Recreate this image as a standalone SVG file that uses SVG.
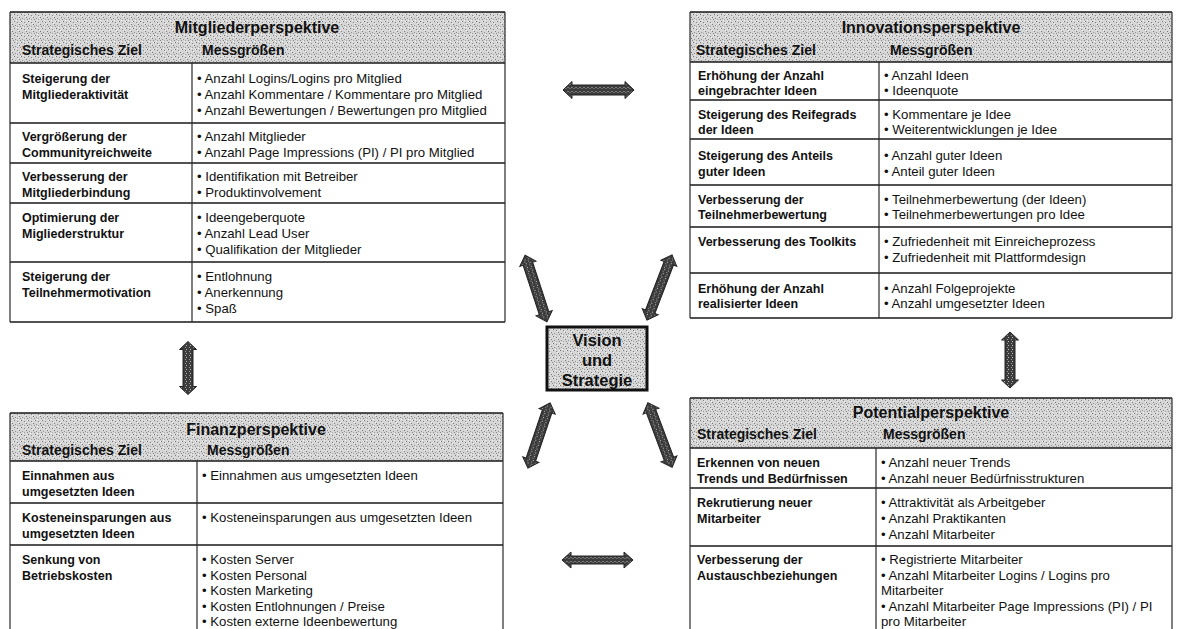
<svg xmlns="http://www.w3.org/2000/svg" width="1180" height="629" viewBox="0 0 1180 629">
<defs>
<pattern id="lt" width="7" height="7" patternUnits="userSpaceOnUse">
<rect width="7" height="7" fill="#d6d6d6"/>
<rect x="0" y="0" width="1" height="1" fill="#707070"/>
<rect x="3" y="1" width="1" height="1" fill="#858585"/>
<rect x="5" y="3" width="1" height="1" fill="#7a7a7a"/>
<rect x="1" y="4" width="1" height="1" fill="#909090"/>
<rect x="6" y="5" width="1" height="1" fill="#8a8a8a"/>
<rect x="2" y="6" width="1" height="1" fill="#f2f2f2"/>
<rect x="4" y="2" width="1" height="1" fill="#f0f0f0"/>
<rect x="6" y="0" width="1" height="1" fill="#efefef"/>
<rect x="3" y="5" width="1" height="1" fill="#a0a0a0"/>
</pattern>
<pattern id="dk" width="4" height="4" patternUnits="userSpaceOnUse">
<rect width="4" height="4" fill="#3c3c3c"/>
<rect x="1" y="1" width="1" height="1" fill="#bbb"/>
<rect x="3" y="2" width="1" height="1" fill="#999"/>
</pattern>
<style>
.ln{stroke:#1a1a1a;stroke-width:1.6;fill:none}
.vl{stroke:#2a2a2a;stroke-width:1.2;fill:none}
.hd{fill:url(#lt);stroke:none}
text{font-family:"Liberation Sans",Arial,Helvetica,sans-serif;fill:#111}
.t{font-size:13.2px}
.b{font-size:12.5px;font-weight:bold}
.h{font-size:14px;font-weight:bold}
.ti{font-size:16px;font-weight:bold;text-anchor:middle}
.arr{fill:url(#dk);stroke:#222;stroke-width:1}
.vt{font-size:16.5px;font-weight:bold;text-anchor:middle}
</style>
</defs>
<rect width="1180" height="629" fill="#fff"/>

<g id="mitglieder">
<rect class="hd" x="10" y="12" width="495" height="51"/>
<path class="ln" d="M10 12H505M10 63H505M10 123H505M10 163H505M10 203H505M10 262H505M10 322H505"/>
<path class="vl" d="M10 12V322M505 12V322M192 63V322"/>
<text class="ti" x="257" y="33">Mitgliederperspektive</text>
<text class="h" x="22" y="55">Strategisches Ziel</text>
<text class="h" x="202" y="55">Messgrößen</text>
<text class="b" x="22" y="83">Steigerung der</text>
<text class="b" x="22" y="99">Mitgliederaktivität</text>
<text class="t" x="197" y="83">• Anzahl Logins/Logins pro Mitglied</text>
<text class="t" x="197" y="99">• Anzahl Kommentare / Kommentare pro Mitglied</text>
<text class="t" x="197" y="115">• Anzahl Bewertungen / Bewertungen pro Mitglied</text>
<text class="b" x="22" y="141">Vergrößerung der</text>
<text class="b" x="22" y="157">Communityreichweite</text>
<text class="t" x="197" y="141">• Anzahl Mitglieder</text>
<text class="t" x="197" y="157">• Anzahl Page Impressions (PI) / PI pro Mitglied</text>
<text class="b" x="22" y="181">Verbesserung der</text>
<text class="b" x="22" y="197">Mitgliederbindung</text>
<text class="t" x="197" y="181">• Identifikation mit Betreiber</text>
<text class="t" x="197" y="197">• Produktinvolvement</text>
<text class="b" x="22" y="222">Optimierung der</text>
<text class="b" x="22" y="238">Migliederstruktur</text>
<text class="t" x="197" y="222">• Ideengeberquote</text>
<text class="t" x="197" y="238">• Anzahl Lead User</text>
<text class="t" x="197" y="254">• Qualifikation der Mitglieder</text>
<text class="b" x="22" y="281">Steigerung der</text>
<text class="b" x="22" y="297">Teilnehmermotivation</text>
<text class="t" x="197" y="281">• Entlohnung</text>
<text class="t" x="197" y="297">• Anerkennung</text>
<text class="t" x="197" y="313">• Spaß</text>
</g>

<g id="innovation">
<rect class="hd" x="690" y="12" width="482" height="50"/>
<path class="ln" d="M690 12H1172M690 62H1172M690 100H1172M690 139H1172M690 185H1172M690 227H1172M690 273H1172M690 318H1172"/>
<path class="vl" d="M690 12V318M1172 12V318M879 62V318"/>
<text class="ti" x="931" y="33">Innovationsperspektive</text>
<text class="h" x="696" y="55">Strategisches Ziel</text>
<text class="h" x="890" y="55">Messgrößen</text>
<text class="b" x="698" y="80">Erhöhung der Anzahl</text>
<text class="b" x="698" y="95">eingebrachter Ideen</text>
<text class="t" x="884" y="80">• Anzahl Ideen</text>
<text class="t" x="884" y="95">• Ideenquote</text>
<text class="b" x="698" y="119">Steigerung des Reifegrads</text>
<text class="b" x="698" y="134">der Ideen</text>
<text class="t" x="884" y="119">• Kommentare je Idee</text>
<text class="t" x="884" y="134">• Weiterentwicklungen je Idee</text>
<text class="b" x="698" y="160">Steigerung des Anteils</text>
<text class="b" x="698" y="176">guter Ideen</text>
<text class="t" x="884" y="160">• Anzahl guter Ideen</text>
<text class="t" x="884" y="176">• Anteil guter Ideen</text>
<text class="b" x="698" y="204">Verbesserung der</text>
<text class="b" x="698" y="219">Teilnehmerbewertung</text>
<text class="t" x="884" y="204">• Teilnehmerbewertung (der Ideen)</text>
<text class="t" x="884" y="219">• Teilnehmerbewertungen pro Idee</text>
<text class="b" x="698" y="246">Verbesserung des Toolkits</text>
<text class="t" x="884" y="246">• Zufriedenheit mit Einreicheprozess</text>
<text class="t" x="884" y="262">• Zufriedenheit mit Plattformdesign</text>
<text class="b" x="698" y="293">Erhöhung der Anzahl</text>
<text class="b" x="698" y="308">realisierter Ideen</text>
<text class="t" x="884" y="293">• Anzahl Folgeprojekte</text>
<text class="t" x="884" y="308">• Anzahl umgesetzter Ideen</text>
</g>

<g id="finanz">
<rect class="hd" x="10" y="413" width="493" height="48"/>
<path class="ln" d="M10 413H503M10 461H503M10 503H503M10 545H503"/>
<path class="vl" d="M10 413V629M503 413V629M197 461V629"/>
<text class="ti" x="256" y="435">Finanzperspektive</text>
<text class="h" x="22" y="455">Strategisches Ziel</text>
<text class="h" x="207" y="455">Messgrößen</text>
<text class="b" x="22" y="480">Einnahmen aus</text>
<text class="b" x="22" y="496">umgesetzten Ideen</text>
<text class="t" x="202" y="480">• Einnahmen aus umgesetzten Ideen</text>
<text class="b" x="22" y="522">Kosteneinsparungen aus</text>
<text class="b" x="22" y="538">umgesetzten Ideen</text>
<text class="t" x="202" y="522">• Kosteneinsparungen aus umgesetzten Ideen</text>
<text class="b" x="22" y="564">Senkung von</text>
<text class="b" x="22" y="579.5">Betriebskosten</text>
<text class="t" x="202" y="564">• Kosten Server</text>
<text class="t" x="202" y="579.5">• Kosten Personal</text>
<text class="t" x="202" y="595">• Kosten Marketing</text>
<text class="t" x="202" y="610.5">• Kosten Entlohnungen / Preise</text>
<text class="t" x="202" y="626">• Kosten externe Ideenbewertung</text>
</g>

<g id="potential">
<rect class="hd" x="690" y="398" width="482" height="50"/>
<path class="ln" d="M690 398H1172M690 448H1172M690 488H1172M690 546H1172"/>
<path class="vl" d="M690 398V629M1172 398V629M876 448V629"/>
<text class="ti" x="931" y="418">Potentialperspektive</text>
<text class="h" x="697" y="439">Strategisches Ziel</text>
<text class="h" x="883" y="439">Messgrößen</text>
<text class="b" x="697" y="467">Erkennen von neuen</text>
<text class="b" x="697" y="483">Trends und Bedürfnissen</text>
<text class="t" x="881" y="467">• Anzahl neuer Trends</text>
<text class="t" x="881" y="483">• Anzahl neuer Bedürfnisstrukturen</text>
<text class="b" x="697" y="507">Rekrutierung neuer</text>
<text class="b" x="697" y="523">Mitarbeiter</text>
<text class="t" x="881" y="507">• Attraktivität als Arbeitgeber</text>
<text class="t" x="881" y="523">• Anzahl Praktikanten</text>
<text class="t" x="881" y="539">• Anzahl Mitarbeiter</text>
<text class="b" x="697" y="564">Verbesserung der</text>
<text class="b" x="697" y="579.5">Austauschbeziehungen</text>
<text class="t" x="881" y="564">• Registrierte Mitarbeiter</text>
<text class="t" x="881" y="579.5">• Anzahl Mitarbeiter Logins / Logins pro</text>
<text class="t" x="881" y="595">Mitarbeiter</text>
<text class="t" x="881" y="610.5">• Anzahl Mitarbeiter Page Impressions (PI) / PI</text>
<text class="t" x="881" y="626">pro Mitarbeiter</text>
</g>

<g id="vision">
<rect x="547" y="327" width="100" height="63" fill="url(#lt)" stroke="#111" stroke-width="3"/>
<text class="vt" x="597" y="346">Vision</text>
<text class="vt" x="597" y="366">und</text>
<text class="vt" x="597" y="386">Strategie</text>
</g>

<g id="connectors">
<polygon class="arr" transform="translate(598.5,90)" points="-35.5,0 -26.5,-8.5 -26.5,-5 26.5,-5 26.5,-8.5 35.5,0 26.5,8.5 26.5,5 -26.5,5 -26.5,8.5"/>
<polygon class="arr" transform="translate(597.5,560)" points="-35.5,0 -26.5,-8 -26.5,-4 26.5,-4 26.5,-8 35.5,0 26.5,8 26.5,4 -26.5,4 -26.5,8"/>
<polygon class="arr" transform="translate(188,368) rotate(90)" points="-26.5,0 -18.5,-8.5 -18.5,-5 18.5,-5 18.5,-8.5 26.5,0 18.5,8.5 18.5,5 -18.5,5 -18.5,8.5"/>
<polygon class="arr" transform="translate(1010,360) rotate(90)" points="-28,0 -20,-8.5 -20,-5 20,-5 20,-8.5 28,0 20,8.5 20,5 -20,5 -20,8.5"/>
<polygon class="arr" transform="translate(536,288.5) rotate(71.8)" points="-35,0 -26,-8.5 -26,-5 26,-5 26,-8.5 35,0 26,8.5 26,5 -26,5 -26,8.5"/>
<polygon class="arr" transform="translate(659.5,287.5) rotate(111)" points="-35,0 -26,-8.5 -26,-5 26,-5 26,-8.5 35,0 26,8.5 26,5 -26,5 -26,8.5"/>
<polygon class="arr" transform="translate(539,435.5) rotate(108.7)" points="-34.5,0 -25.5,-8.5 -25.5,-5 25.5,-5 25.5,-8.5 34.5,0 25.5,8.5 25.5,5 -25.5,5 -25.5,8.5"/>
<polygon class="arr" transform="translate(660,435) rotate(69.4)" points="-34.5,0 -25.5,-8.5 -25.5,-5 25.5,-5 25.5,-8.5 34.5,0 25.5,8.5 25.5,5 -25.5,5 -25.5,8.5"/>
</g>
</svg>
